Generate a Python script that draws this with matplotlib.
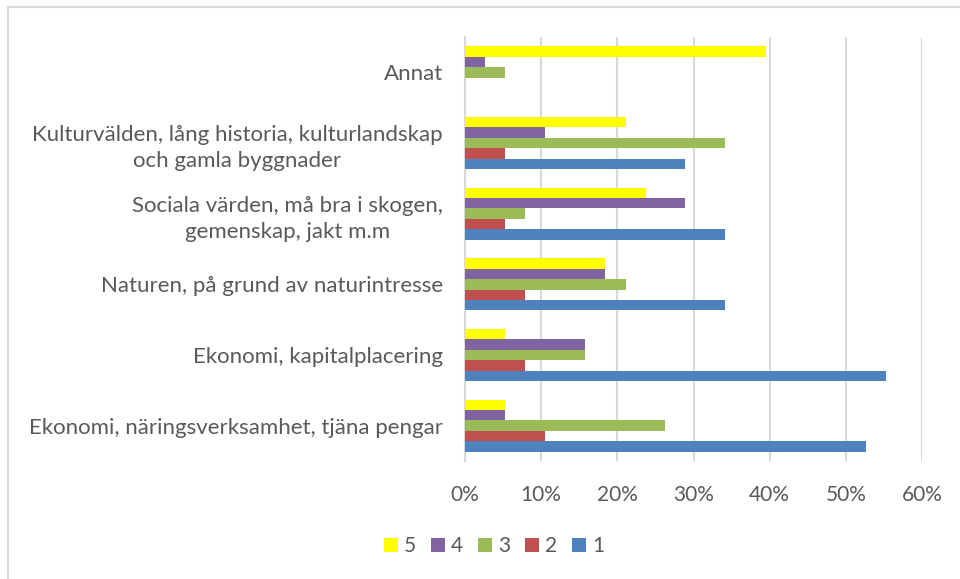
import numpy as np
import matplotlib
matplotlib.use("Agg")
from matplotlib import pyplot as plt
from matplotlib.patches import Rectangle
from matplotlib.ticker import PercentFormatter

# categories bottom -> top
categories = [
    "Ekonomi, näringsverksamhet, tjäna pengar",
    "Ekonomi, kapitalplacering",
    "Naturen, på grund av naturintresse",
    "Sociala värden, må bra i skogen,\ngemenskap, jakt m.m",
    "Kulturvälden, lång historia, kulturlandskap\noch gamla byggnader",
    "Annat",
]
series_names = ["1", "2", "3", "4", "5"]
s1 = [52.6, 55.3, 34.2, 34.2, 28.9, 0.0]
s2 = [10.5, 7.9, 7.9, 5.3, 5.3, 0.0]
s3 = [26.3, 15.8, 21.1, 7.9, 34.2, 5.3]
s4 = [5.3, 15.8, 18.4, 28.9, 10.5, 2.6]
s5 = [5.3, 5.3, 18.4, 23.7, 21.1, 39.5]
colors = ["#4F81BD", "#C0504D", "#9BBB59", "#8064A2", "#FFFF00"]

plt.rcParams["font.family"] = ["Lato", "DejaVu Sans"]
text_color = "#595959"
grid_color = "#D9D9D9"

fig = plt.figure(figsize=(9.6, 5.79), dpi=100)
ax = fig.add_axes([465 / 960, 1 - 461 / 579, 457 / 960, 424 / 579])

y = np.arange(len(categories))
h = 0.147
handles = []
for i, (vals, name, c) in enumerate(zip([s1, s2, s3, s4, s5], series_names, colors)):
    b = ax.barh(y + (i - 2) * h, vals, height=h, color=c, label=name, zorder=3)
    handles.append(b)

ax.set_xlim(0, 60)
ax.set_ylim(-0.5, len(categories) - 0.5)
ax.set_xticks(np.arange(0, 61, 10))
ax.xaxis.set_major_formatter(PercentFormatter(decimals=0))
ax.set_yticks(y)
ax.set_yticklabels(categories, multialignment="center", linespacing=1.4)
ax.tick_params(axis="y", length=0, pad=16, labelsize=16, labelcolor=text_color)
ax.tick_params(axis="x", length=0, pad=17, labelsize=15, labelcolor=text_color)
ax.grid(axis="x", color=grid_color, linewidth=1.5, zorder=0)
for s in ["top", "right", "bottom"]:
    ax.spines[s].set_visible(False)
ax.spines["left"].set_color(grid_color)
ax.spines["left"].set_linewidth(1.5)

leg = fig.legend(handles[::-1], series_names[::-1], loc="center", bbox_to_anchor=(494 / 960, 1 - 546 / 579),
                 ncol=5, frameon=False, fontsize=15, handlelength=0.67, handleheight=0.67,
                 handletextpad=0.3, columnspacing=0.7)
for t in leg.get_texts():
    t.set_color(text_color)

# chart area border (only top/left visible in the crop)
fig.patches.append(Rectangle((8 / 960, -0.1), 1.2, 1 - 7 / 579 + 0.1, transform=fig.transFigure,
                             fill=False, edgecolor=grid_color, linewidth=1.5, clip_on=False))

fig.savefig("out.png", dpi=100, facecolor="white")
